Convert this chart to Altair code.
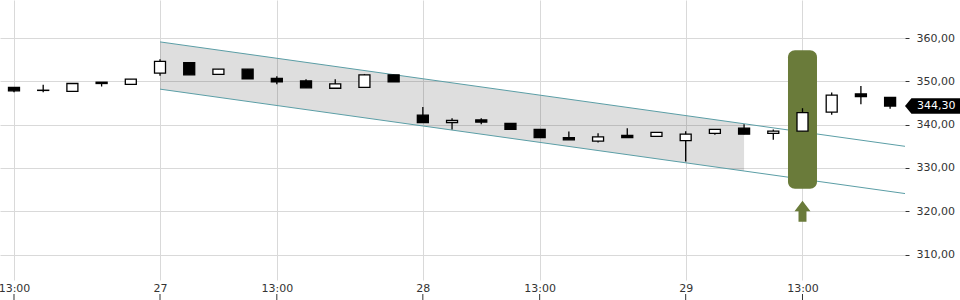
import altair as alt
import pandas as pd

# ---- data ----
candle_idx = list(range(31))
opens  = [348.6, 347.9, 347.7, 349.8, 349.3, 351.9, 354.3, 351.6, 352.8, 350.7,
          350.1, 348.4, 348.6, 351.5, 342.2, 340.5, 341.1, 340.3, 338.9, 337.0,
          336.2, 337.5, 337.3, 336.3, 338.0, 339.2, 338.0, 338.5, 342.9, 347.1, 346.3]
highs  = [348.6, 349.2, 349.5, 349.8, 350.5, 355.1, 354.3, 352.8, 352.8, 351.2,
          350.5, 350.5, 351.7, 351.5, 344.1, 341.5, 341.5, 340.3, 338.9, 338.4,
          338.0, 339.2, 338.2, 338.5, 338.9, 340.1, 338.9, 343.8, 347.4, 348.9, 346.3]
lows   = [347.5, 347.5, 347.7, 348.8, 349.3, 351.3, 351.5, 351.6, 350.6, 349.3,
          348.5, 348.4, 348.6, 349.9, 340.5, 338.9, 340.1, 338.9, 337.0, 336.5,
          335.9, 337.0, 337.3, 331.5, 337.7, 337.8, 336.5, 338.5, 342.3, 344.7, 343.7]
closes = [347.8, 347.95, 349.5, 349.5, 350.5, 354.6, 351.5, 352.8, 350.6, 349.9,
          348.5, 349.4, 351.5, 349.9, 340.5, 341.0, 340.6, 338.9, 337.0, 336.5,
          337.2, 337.0, 338.2, 337.8, 338.9, 337.8, 338.5, 342.8, 346.8, 346.5, 344.3]

tick_idx    = [0, 5, 9, 14, 18, 23, 27]
tick_labels = ["13:00", "27", "13:00", "28", "13:00", "29", "13:00"]
y_ticks     = [310, 320, 330, 340, 350, 360]

channel_x     = [5, 30.51]
channel_upper = [359.1, 335.0]
channel_lower = [348.2, 324.1]
shade_x       = [5, 25]
shade_upper   = [359.1, 340.2]
shade_lower   = [348.2, 329.3]

highlight_idx  = [27]
highlight_top  = [357.2]
highlight_bot  = [325.2]
arrow_value    = [320.0]
last_price     = [344.3]
last_label     = ["344,30"]

X_DOMAIN = [-0.479, 30.51]
Y_DOMAIN = [304.15, 368.77]

# ---- tables ----
df = pd.DataFrame({"i": candle_idx, "open": opens, "high": highs, "low": lows, "close": closes})
df["up"] = df["close"] >= df["open"]
ch = pd.DataFrame({"i": channel_x, "upper": channel_upper, "lower": channel_lower})
sh = pd.DataFrame({"i": shade_x, "upper": shade_upper, "lower": shade_lower})
hl = pd.DataFrame({"i": highlight_idx, "top": highlight_top, "bot": highlight_bot})
ar = pd.DataFrame({"i": highlight_idx, "v": arrow_value})
lp = pd.DataFrame({"v": last_price, "t": last_label})
tk = pd.DataFrame({"i": tick_idx})

label_expr = ""
for k, l in zip(tick_idx, tick_labels):
    label_expr += f"datum.value == {k} ? '{l}' : "
label_expr += "''"

FONT = "DejaVu Sans"

x_axis = alt.Axis(values=tick_idx, labelExpr=label_expr, grid=True, gridColor="#d9d9d9",
                  domain=False, ticks=False, labelPadding=2, labelFont=FONT,
                  labelFontSize=11, labelColor="#333333", title=None, labelFlush=False)
y_axis = alt.Axis(values=y_ticks, orient="right", grid=True, gridColor="#d9d9d9",
                  domain=False, ticks=True, tickSize=4, tickColor="#333333",
                  labelPadding=7, labelFont=FONT, labelFontSize=11, labelColor="#333333",
                  labelExpr="replace(format(datum.value, '.2f'), '.', ',')", title=None)

xs = alt.Scale(domain=X_DOMAIN, nice=False, zero=False, padding=0)
ys = alt.Scale(domain=Y_DOMAIN, nice=False, zero=False, padding=0)


def X():
    return alt.X("i:Q", scale=xs, axis=x_axis)


def Y(f):
    return alt.Y(f, scale=ys, axis=y_axis)


shade = alt.Chart(sh).mark_area(color="black", opacity=0.13).encode(
    x=X(), y=Y("upper:Q"), y2="lower:Q")

up_line = alt.Chart(ch).mark_line(color="#5b9ea6", strokeWidth=1).encode(x=X(), y=Y("upper:Q"))
lo_line = alt.Chart(ch).mark_line(color="#5b9ea6", strokeWidth=1).encode(x=X(), y=Y("lower:Q"))

highlight = alt.Chart(hl).mark_bar(color="#6a7b3a", size=29, cornerRadius=7).encode(
    x=X(), y=Y("top:Q"), y2="bot:Q")

wicks = alt.Chart(df).mark_rule(color="black", strokeWidth=1.3).encode(
    x=X(), y=Y("low:Q"), y2="high:Q")

bodies = alt.Chart(df).mark_bar(size=11, stroke="black", strokeWidth=1.3).encode(
    x=X(), y=Y("open:Q"), y2="close:Q",
    fill=alt.condition("datum.up", alt.value("white"), alt.value("black")))

arrow_shape = "M0,-1 L0.76,0 L0.38,0 L0.38,1 L-0.38,1 L-0.38,0 L-0.76,0 Z"
arrow = alt.Chart(ar).mark_point(shape=arrow_shape, size=441, filled=True,
                                 color="#6a7b3a", opacity=1, strokeWidth=0).encode(
    x=X(), y=Y("v:Q"))

bottom_ticks = alt.Chart(tk).mark_rule(color="#333333", strokeWidth=1).encode(
    x=X(), y=alt.value(294), y2=alt.value(300))

tag_shape = "M-1,0 L-0.77,-0.28 L1,-0.28 L1,0.28 L-0.77,0.28 Z"
tag = alt.Chart(lp).mark_point(shape=tag_shape, size=3136, filled=True, color="black",
                               opacity=1, strokeWidth=0).encode(
    x=alt.value(933), y=Y("v:Q"))
tag_text = alt.Chart(lp).mark_text(align="left", baseline="middle", color="white",
                                   font=FONT, fontSize=11).encode(
    x=alt.value(917), y=Y("v:Q"), text="t:N")

chart = alt.layer(shade, up_line, lo_line, highlight, wicks, bodies, arrow,
                  bottom_ticks, tag, tag_text).properties(
    width=905, height=280,
    padding={"left": 0, "top": 0, "right": 55, "bottom": 20},
    autosize="none",
    background="white",
).configure_view(stroke=None).configure_axis(domain=False)

chart.save("out.html", embed_options={"renderer": "svg", "actions": False})
